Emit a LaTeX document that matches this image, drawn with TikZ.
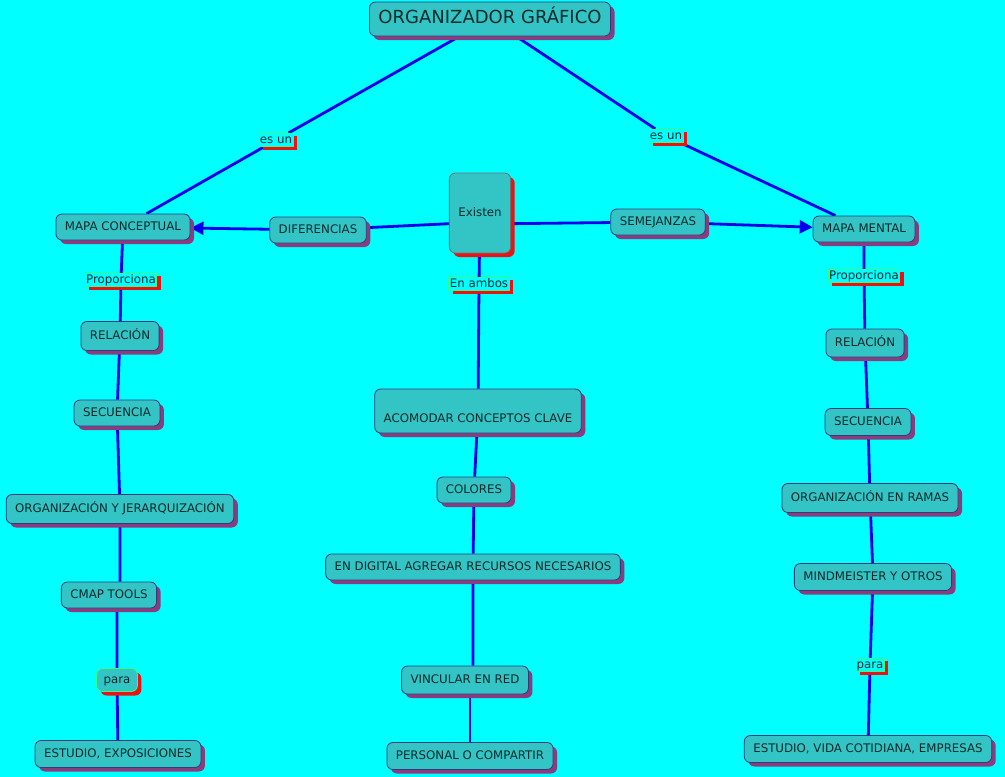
\documentclass[tikz,border=0pt]{standalone}
\usepackage{fontspec}
\setmainfont{DejaVu Sans}
\usetikzlibrary{arrows.meta,shadows}
\definecolor{bgcyan}{HTML}{00FFFF}
\definecolor{boxfill}{HTML}{33C4C6}
\definecolor{boxedge}{HTML}{2E3D7A}
\definecolor{plum}{HTML}{8A3C7E}
\definecolor{linkblue}{HTML}{0000EE}
\definecolor{tagedge}{HTML}{33FF88}
\definecolor{tagred}{HTML}{EE1111}
\definecolor{ink}{HTML}{0A2A2A}
\definecolor{greyedge}{HTML}{707070}
\pgfdeclarelayer{back}
\pgfsetlayers{back,main}
\tikzset{
  basebox/.style={draw=boxedge,fill=boxfill,rounded corners=6pt,line width=0.8pt,text=ink,
    font=\fontsize{11.8}{14}\selectfont,inner xsep=9pt,minimum height=26pt,text height=9pt,text depth=2.5pt},
  concept/.style={basebox,drop shadow={shadow xshift=4pt,shadow yshift=-4pt,fill=plum,opacity=1}},
  hot/.style={basebox,drop shadow={shadow xshift=4pt,shadow yshift=-4pt,fill=tagred,opacity=1}},
  tag/.style={draw=tagedge,fill=bgcyan,line width=0.8pt,inner sep=1pt,text=ink,
    font=\fontsize{11.8}{14}\selectfont,text height=9pt,text depth=2.5pt,
    drop shadow={shadow xshift=4pt,shadow yshift=-3pt,fill=tagred,opacity=1}},
  link/.style={draw=linkblue,line width=2.8pt},
  tip/.style={-{Triangle[length=13pt,width=13pt]}}
}
\begin{document}
\begin{tikzpicture}[x=1pt,y=-1pt]
\useasboundingbox (0,0) rectangle (1005,777);
% top and centre
\node[concept,font=\fontsize{18}{20}\selectfont,minimum height=34pt,text height=13pt,text depth=3.5pt] (title) at (490,19) {ORGANIZADOR GRÁFICO};
\node[hot,draw=greyedge,minimum width=58pt,minimum height=80pt] (existen) at (480,213) {Existen};
\node[concept] (dif) at (318,230) {DIFERENCIAS};
\node[concept] (sem) at (658,222) {SEMEJANZAS};
\node[concept] (mapac) at (123,227) {MAPA CONCEPTUAL};
\node[concept] (mapam) at (864,229) {MAPA MENTAL};
\node[tag] (esun1) at (276,140) {es un};
\node[tag] (esun2) at (666,136) {es un};
\node[tag] (prop1) at (121,280) {Proporciona};
\node[tag] (prop2) at (864,276) {Proporciona};
\node[tag] (ambos) at (479,284) {En ambos};
% left column
\node[concept,minimum height=29pt] (rel1) at (120,336) {RELACIÓN};
\node[concept] (sec1) at (117,413) {SECUENCIA};
\node[concept,minimum height=29pt] (org1) at (120,509) {ORGANIZACIÓN Y JERARQUIZACIÓN};
\node[concept] (cmap) at (109,595) {CMAP TOOLS};
\node[hot,draw=tagedge,inner xsep=7pt,minimum height=23pt] (para1) at (117,680) {para};
\node[concept,minimum height=27pt] (est1) at (118,754) {ESTUDIO, EXPOSICIONES};
% middle column
\node[concept,minimum height=44pt,inner ysep=6.5pt,text height=27pt,text depth=4pt] (acom) at (478,411) {ACOMODAR CONCEPTOS CLAVE};
\node[concept] (col) at (474,490) {COLORES};
\node[concept] (digital) at (473,567) {EN DIGITAL AGREGAR RECURSOS NECESARIOS};
\node[concept,minimum height=28pt] (vinc) at (465,680) {VINCULAR EN RED};
\node[concept,minimum height=27pt] (pers) at (470,756) {PERSONAL O COMPARTIR};
% right column
\node[concept,minimum height=28pt] (rel2) at (865,343) {RELACIÓN};
\node[concept,minimum height=27pt] (sec2) at (868,422) {SECUENCIA};
\node[concept,minimum height=29pt] (org2) at (870,498) {ORGANIZACIÓN EN RAMAS};
\node[concept,minimum height=27pt] (mind) at (873,577) {MINDMEISTER Y OTROS};
\node[tag] (para2) at (870,665) {para};
\node[concept,minimum height=27pt] (est2) at (868,749) {ESTUDIO, VIDA COTIDIANA, EMPRESAS};
% connectors behind the boxes
\begin{pgfonlayer}{back}
\fill[bgcyan] (0,0) rectangle (1005,777);
\draw[link] (title) -- (esun1) -- (mapac);
\draw[link] (title) -- (esun2) -- (mapam);
\draw[link] (existen.199) -- (dif);
\draw[link,tip] (dif) -- (mapac);
\draw[link] (existen.-19) -- (sem);
\draw[link,tip] (sem) -- (mapam);
\draw[link] (mapac) -- (prop1) -- (rel1) -- (sec1) -- (org1) -- (cmap.north -| org1);
\draw[link] (cmap.south -| para1) -- (para1) -- (est1);
\draw[link] (existen) -- (ambos) -- (acom) -- (col) -- (digital) -- (vinc.north -| digital);
\draw[link] (vinc.south -| pers) -- (pers);
\draw[link] (mapam) -- (prop2) -- (rel2) -- (sec2) -- (org2) -- (mind) -- (para2) -- (est2);
\end{pgfonlayer}
\end{tikzpicture}
\end{document}
